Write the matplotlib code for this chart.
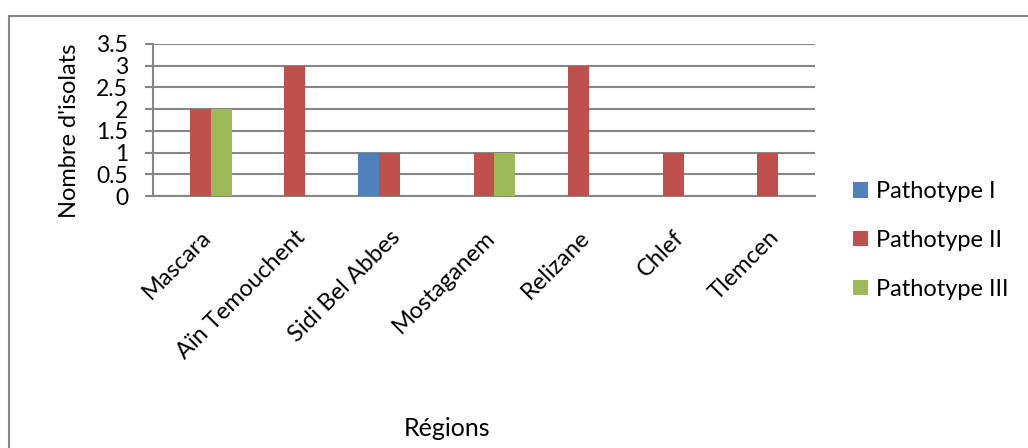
import numpy as np
import matplotlib
matplotlib.use("Agg")
import matplotlib.pyplot as plt
from matplotlib.patches import Rectangle

plt.rcParams['font.family'] = ['Lato', 'DejaVu Sans']

# données : nombre d'isolats par région et par pathotype
regions = ["Mascara", "Aïn Temouchent", "Sidi Bel Abbes", "Mostaganem",
           "Relizane", "Chlef", "Tlemcen"]
pathotype_1 = [0, 0, 1, 0, 0, 0, 0]
pathotype_2 = [2, 3, 1, 1, 3, 1, 1]
pathotype_3 = [2, 0, 0, 1, 0, 0, 0]
series_names = ["Pathotype I", "Pathotype II", "Pathotype III"]
colors = ["#4F81BD", "#C0504D", "#9BBB59"]
yticks = [0, 0.5, 1, 1.5, 2, 2.5, 3, 3.5]

fig = plt.figure(figsize=(10.28, 4.48), dpi=100)
ax = fig.add_axes([153 / 1028, 1 - 196 / 448, (815 - 153) / 1028, (196 - 44) / 448])

x = np.arange(len(regions))
w = 0.222
for i, (vals, name, c) in enumerate(zip([pathotype_1, pathotype_2, pathotype_3],
                                        series_names, colors)):
    ax.bar(x + (i - 1) * w, vals, width=w, color=c, label=name, zorder=3)

ax.set_xlim(-0.5, len(regions) - 0.5)
ax.set_ylim(0, 3.5)
ax.set_yticks(yticks)
ax.set_yticklabels([f"{t:g}" for t in yticks], fontsize=16.5)
ax.yaxis.grid(True, color="#868686", linewidth=1.5, zorder=0)
ax.tick_params(axis='y', length=6, width=1.5, color="#868686", pad=12)
ax.tick_params(axis='x', length=0, pad=22)
ax.set_xticks(x)
ax.set_xticklabels(regions, rotation=45, ha='right', va='top',
                   rotation_mode='anchor', fontsize=17)

for side in ["top", "right"]:
    ax.spines[side].set_visible(False)
for side in ["left", "bottom"]:
    ax.spines[side].set_color("#868686")
    ax.spines[side].set_linewidth(1.5)

ax.set_ylabel("Nombre d'isolats", fontsize=17)
ax.yaxis.set_label_coords(-0.11, 0.43)
fig.text(447 / 1028, 1 - 428 / 448, "Régions", fontsize=18,
         ha='center', va='center')

handles, labels = ax.get_legend_handles_labels()
fig.legend(handles, labels, loc='upper left', bbox_to_anchor=(832 / 1028, 1 - 160 / 448),
           frameon=False, fontsize=17, handlelength=0.62, handleheight=0.62,
           handletextpad=0.35, labelspacing=1.18)

# cadre du graphique
fig.add_artist(Rectangle((9 / 1028, -0.1), 1.2, 1 - 16 / 448 + 0.1,
                         transform=fig.transFigure, fill=False,
                         edgecolor="#868686", linewidth=1.5))

fig.savefig("out.png", dpi=100)
